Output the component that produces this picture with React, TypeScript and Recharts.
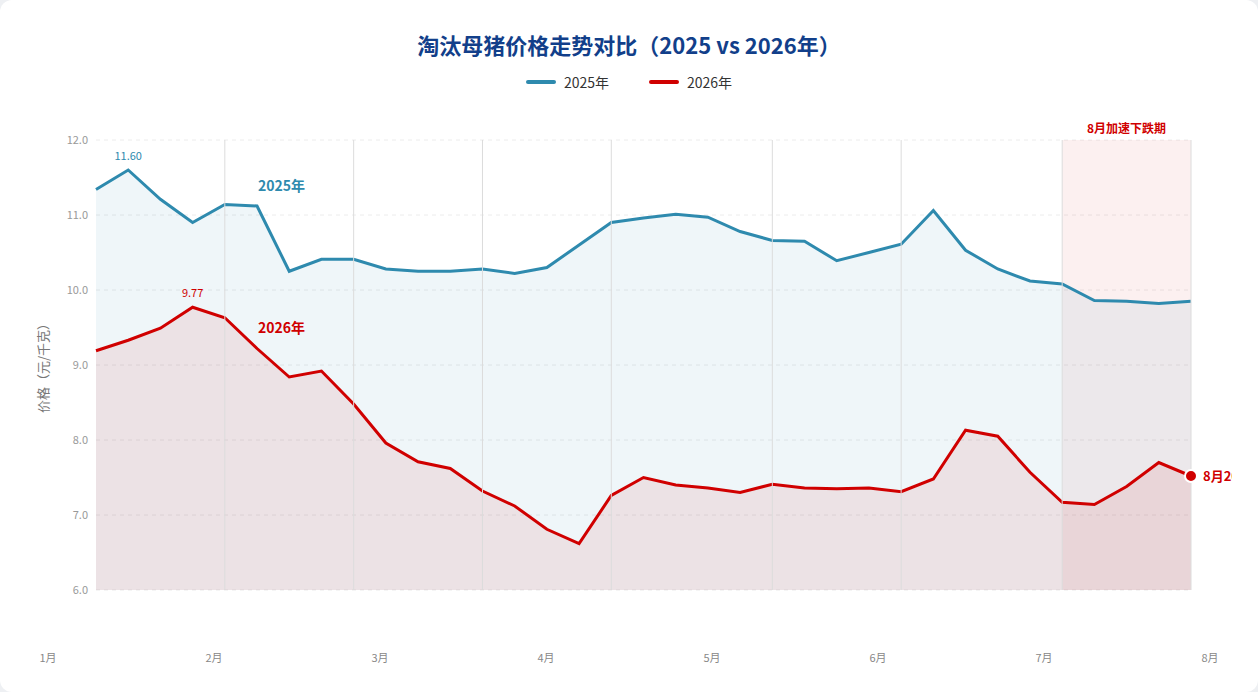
import React from "react";
import {
  ComposedChart,
  Area,
  XAxis,
  YAxis,
  CartesianGrid,
  ReferenceArea,
  ReferenceLine,
  ReferenceDot,
} from "recharts";

const PRICE_2025 = [
  11.34, 11.6, 11.21, 10.9, 11.14, 11.12, 10.25, 10.41, 10.41, 10.28, 10.25, 10.25,
  10.28, 10.22, 10.3, 10.6, 10.9, 10.96, 11.01, 10.97, 10.78, 10.66, 10.65, 10.39,
  10.5, 10.61, 11.06, 10.53, 10.28, 10.12, 10.08, 9.86, 9.85, 9.82, 9.85,
];
const PRICE_2026 = [
  9.19, 9.33, 9.49, 9.77, 9.63, 9.22, 8.84, 8.92, 8.48, 7.96, 7.71, 7.62, 7.32,
  7.12, 6.81, 6.62, 7.26, 7.5, 7.4, 7.36, 7.3, 7.41, 7.36, 7.35, 7.36, 7.31, 7.48,
  8.13, 8.05, 7.57, 7.17, 7.14, 7.38, 7.7, 7.52,
];
const MONTH_LABELS = ["1月", "2月", "3月", "4月", "5月", "6月", "7月", "8月"];
const MONTH_BOUNDARIES = [4, 8, 12, 16, 21, 25, 30, 34];
const Y_TICKS = [6, 7, 8, 9, 10, 11, 12];
const DROP_ZONE = { from: 30, to: 34, label: "8月加速下跌期" };
const PEAKS = [
  { i: 1, key: "y2025" as const },
  { i: 3, key: "y2026" as const },
];
const SERIES_TAGS = [
  { name: "2025年", i: 5, y: 11.39 },
  { name: "2026年", i: 5, y: 9.49 },
];
const END_LABEL = "8月20日";

const BLUE = "#2e8aae";
const RED = "#d00000";
const FONT = '"Noto Sans CJK SC", "Noto Sans", sans-serif';

const rows = PRICE_2025.map((v, i) => ({ i, y2025: v, y2026: PRICE_2026[i] }));
const lastIdx = rows.length - 1;

function YLabel({ viewBox }: any) {
  const x = viewBox.x + 6;
  const y = viewBox.y + viewBox.height / 2;
  return (
    <text
      x={x}
      y={y}
      transform={`rotate(-90, ${x}, ${y})`}
      textAnchor="middle"
      dominantBaseline="central"
      fill="#777"
      fontSize={13}
    >
      价格（元/千克）
    </text>
  );
}

export default function App() {
  const colors = { y2025: BLUE, y2026: RED };
  return (
    <div
      style={{
        position: "relative",
        width: 1258,
        height: 692,
        background: "#fff",
        borderRadius: 12,
        overflow: "hidden",
        fontFamily: FONT,
      }}
    >
      <style>{"body{margin:0;background:#eef0f3}"}</style>
      <div
        style={{
          position: "absolute",
          top: 28,
          left: 0,
          width: 1258,
          textAlign: "center",
          fontSize: 22,
          fontWeight: 700,
          color: "#123f8a",
          lineHeight: "32px",
        }}
      >
        淘汰母猪价格走势对比（2025 vs 2026年）
      </div>
      <div
        style={{
          position: "absolute",
          top: 72,
          left: 0,
          width: 1258,
          display: "flex",
          justifyContent: "center",
          gap: 40,
          fontSize: 14,
          color: "#333",
          lineHeight: "20px",
        }}
      >
        {[
          { name: "2025年", color: BLUE },
          { name: "2026年", color: RED },
        ].map((s) => (
          <div key={s.name} style={{ display: "flex", alignItems: "center", gap: 8 }}>
            <span
              style={{
                display: "inline-block",
                width: 30,
                height: 4,
                borderRadius: 2,
                background: s.color,
              }}
            />
            {s.name}
          </div>
        ))}
      </div>
      <div style={{ position: "absolute", top: 0, left: 0, width: 1232, height: 692, overflow: "hidden" }}>
        <ComposedChart
          width={1258}
          height={692}
          data={rows}
          margin={{ top: 140, right: 67, bottom: 22, left: 36 }}
        >
          <CartesianGrid vertical={false} stroke="#ececec" strokeDasharray="4 4" />
          <XAxis dataKey="i" type="number" domain={[0, lastIdx]} hide />
          <XAxis
            xAxisId="month"
            dataKey="i"
            type="number"
            domain={[0, MONTH_LABELS.length - 1]}
            allowDataOverflow
            ticks={MONTH_LABELS.map((_, k) => k)}
            interval={0}
            tickFormatter={(k) => MONTH_LABELS[k] ?? ""}
            padding={{ left: -48, right: -19 }}
            axisLine={false}
            tickLine={false}
            tickMargin={28}
            height={80}
            tick={{ fill: "#888", fontSize: 11 }}
          />
          <YAxis
            domain={[6, 12]}
            ticks={Y_TICKS}
            width={60}
            axisLine={false}
            tickLine={false}
            tickFormatter={(v) => Number(v).toFixed(1)}
            tick={{ fill: "#999", fontSize: 11 }}
            label={{ content: (p: any) => <YLabel {...p} /> }}
          />
          <ReferenceArea
            x1={DROP_ZONE.from}
            x2={DROP_ZONE.to}
            y1={6}
            y2={12}
            fill={RED}
            fillOpacity={0.06}
            stroke="none"
            label={{
              value: DROP_ZONE.label,
              position: "top",
              offset: 7,
              fill: RED,
              fontSize: 12,
              fontWeight: 700,
            }}
          />
          {MONTH_BOUNDARIES.map((x) => (
            <ReferenceLine key={x} x={x} stroke="#dcdcdc" strokeWidth={1} />
          ))}
          <Area
            type="linear"
            dataKey="y2025"
            name="2025年"
            stroke={BLUE}
            strokeWidth={3}
            fill={BLUE}
            fillOpacity={0.08}
            baseValue={6}
            dot={false}
            activeDot={false}
            isAnimationActive={false}
          />
          <Area
            type="linear"
            dataKey="y2026"
            name="2026年"
            stroke={RED}
            strokeWidth={3}
            fill={RED}
            fillOpacity={0.08}
            baseValue={6}
            dot={false}
            activeDot={false}
            isAnimationActive={false}
          />
          {PEAKS.map((p) => (
            <ReferenceDot
              key={p.key}
              x={p.i}
              y={rows[p.i][p.key]}
              r={1}
              fillOpacity={0}
              strokeOpacity={0}
              label={{
                value: rows[p.i][p.key].toFixed(2),
                position: "top",
                offset: 9,
                fill: colors[p.key],
                fontSize: 11,
              }}
            />
          ))}
          {SERIES_TAGS.map((t, k) => (
            <ReferenceDot
              key={t.name}
              x={t.i}
              y={t.y}
              r={1}
              fillOpacity={0}
              strokeOpacity={0}
              label={{
                value: t.name,
                position: "right",
                offset: 0,
                fill: k === 0 ? BLUE : RED,
                fontSize: 14,
                fontWeight: 700,
              }}
            />
          ))}
          <ReferenceDot
            x={lastIdx}
            y={PRICE_2026[lastIdx]}
            r={6}
            fill={RED}
            stroke="#fff"
            strokeWidth={2}
            label={{
              value: END_LABEL,
              position: "right",
              offset: 6,
              fill: RED,
              fontSize: 13,
              fontWeight: 700,
            }}
          />
        </ComposedChart>
      </div>
    </div>
  );
}
